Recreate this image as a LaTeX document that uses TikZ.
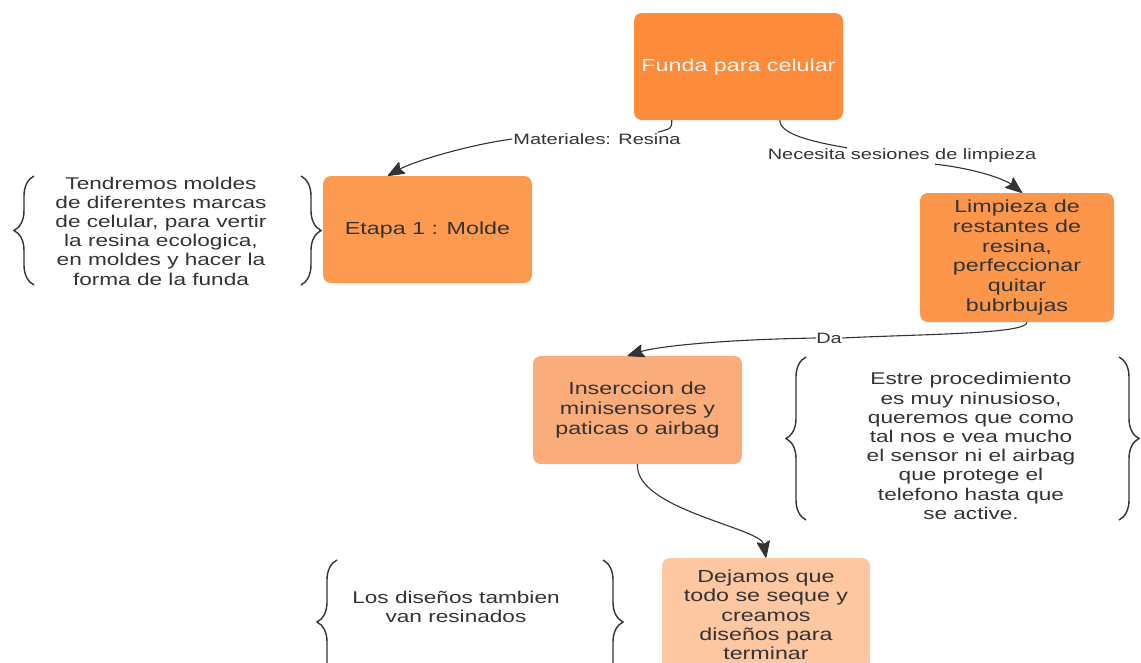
\documentclass[tikz,border=0pt]{standalone}
\usepackage{fontspec}
\setmainfont{Liberation Sans}[FakeStretch=1.33]
\usetikzlibrary{arrows.meta,decorations.pathreplacing}
\definecolor{cFunda}{RGB}{253,139,60}
\definecolor{cEtapa}{RGB}{252,154,80}
\definecolor{cLimp}{RGB}{252,150,74}
\definecolor{cIns}{RGB}{250,172,122}
\definecolor{cDej}{RGB}{253,199,162}
\definecolor{ink}{RGB}{51,51,51}
\begin{document}
\begin{tikzpicture}[x=1pt,y=-1pt,
  box/.style={rounded corners=8pt, align=center, text=ink, inner sep=4pt,
    font=\fontsize{17.5}{19.8}\selectfont},
  side/.style={align=center, text=ink, font=\fontsize{17}{19.2}\selectfont},
  lab/.style={fill=white, inner sep=1pt, text=ink, font=\fontsize{15}{17}\selectfont},
  conn/.style={draw=ink, line width=1.1pt},
  arr/.style={conn, -{Stealth[length=18pt,width=14pt,inset=3pt,round]}},
  brc/.style={draw=ink, line width=1.4pt, decorate, decoration={brace, amplitude=20pt}}]
\useasboundingbox (0,0) rectangle (1141,662);
\clip (0,0) rectangle (1141,662);
\fill[white] (0,0) rectangle (1141,662);

% boxes
\node[box, fill=cFunda, text=white!93!orange, minimum width=209pt, minimum height=107pt] (funda) at (738.5,66.5) {Funda para celular};
\node[box, fill=cEtapa, minimum width=209pt, minimum height=107pt] (etapa) at (427.5,229.5) {Etapa 1 : Molde};
\node[box, fill=cLimp, minimum width=194pt, minimum height=129pt] (limp) at (1017,257.5) {Limpieza de\\restantes de\\resina,\\perfeccionar\\quitar\\bubrbujas};
\node[box, fill=cIns, minimum width=209pt, minimum height=108pt] (ins) at (637.5,410) {Inserccion de\\minisensores y\\paticas o airbag};
\node[box, fill=cDej, minimum width=208pt, minimum height=118pt] (dej) at (766,617) {};
\node[align=center, text=ink, font=\fontsize{17.5}{19.4}\selectfont, anchor=north] (dejt) at (766,566) {Dejamos que\\todo se seque y\\creamos\\diseños para\\terminar};

% side texts
\node[side] (t1) at (161,231) {Tendremos moldes\\de diferentes marcas\\de celular, para vertir\\la resina ecologica,\\en moldes y hacer la\\forma de la funda};
\node[side] (t2) at (971,446) {Estre procedimiento\\es muy ninusioso,\\queremos que como\\tal nos e vea mucho\\el sensor ni el airbag\\que protege el\\telefono hasta que\\se active.};
\node[side] (t3) at (456,607) {Los diseños tambien\\van resinados};

% braces
\draw[brc] (34,285) -- (34,176);
\draw[brc] (301,176) -- (301,285);
\draw[brc] (806,520) -- (806,357);
\draw[brc] (1119,357) -- (1119,520);
\draw[brc] (337,684) -- (337,560);
\draw[brc] (603,560) -- (603,684);

% labels
\node[lab] (lab1) at (597,139) {Materiales: Resina};
\node[lab] (lab2) at (902,156) {Necesita sesiones de limpieza};
\node[lab, inner sep=0.5pt] (da) at (829,338) {Da};

% connectors
\draw[conn] ([xshift=38pt]funda.south west) .. controls +(0,10) and +(12,-4) .. ([xshift=-24pt]lab1.north east);
\draw[arr] (lab1.west) .. controls +(-45,6) and +(25,-14) .. ([xshift=65pt]etapa.north west);
\draw[conn] ([xshift=146pt]funda.south west) .. controls +(0,14) and +(-35,-6) .. ([xshift=-55pt]lab2.north);
\draw[arr] ([xshift=33pt]lab2.south) .. controls +(45,5) and +(-15,-12) .. ([xshift=5pt]limp.north);
\draw[conn] ([xshift=10pt]limp.south) .. controls +(0,12) and +(80,-4) .. (da.east);
\draw[arr] (da.west) .. controls +(-110,2) and +(25,-8) .. ([xshift=-10pt]ins.north);
\draw[arr] (ins.south) .. controls +(-3,45) and +(-5,-30) .. (dej.north);
\end{tikzpicture}
\end{document}
